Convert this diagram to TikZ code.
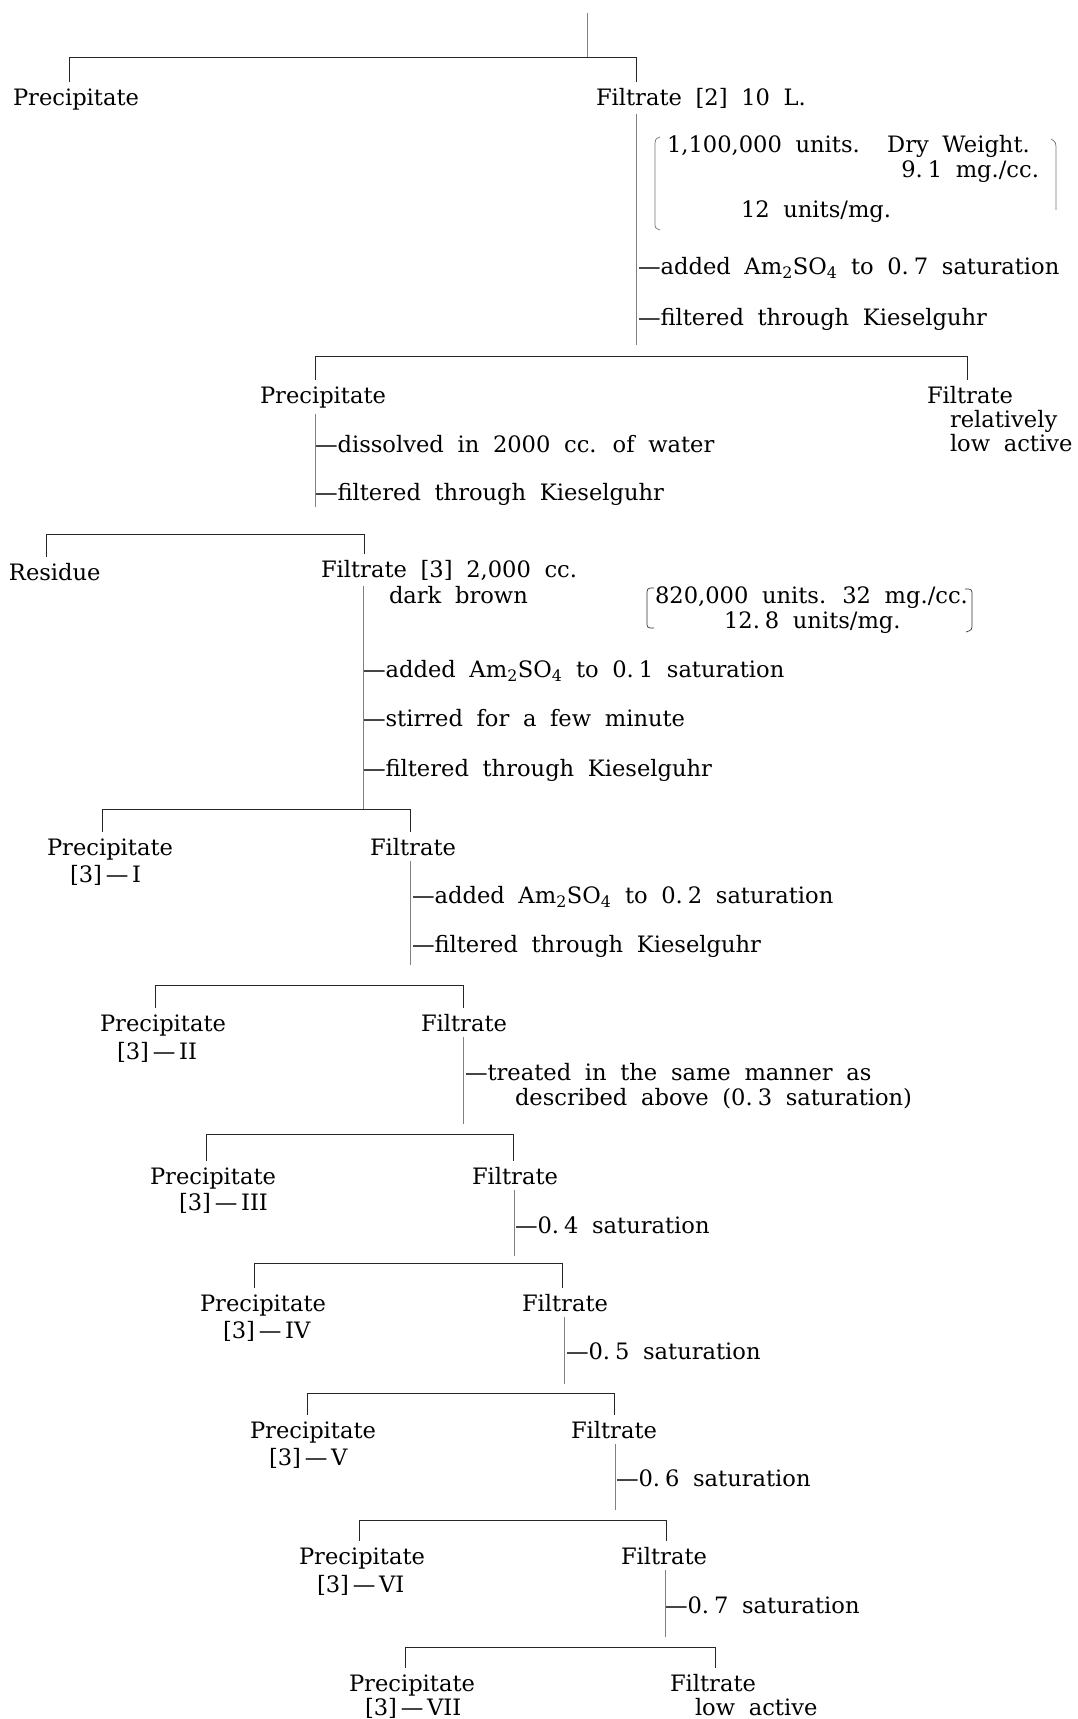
\documentclass[tikz,border=0pt]{standalone}
\usepackage{fontspec}
\setmainfont{DejaVu Serif}[WordSpace=1.9]
\newcommand\dsp{\hspace{0.22em}}
\tikzset{
  lbl/.style={inner sep=0pt, outer xsep=0pt, outer ysep=6pt, anchor=base west,
              font=\fontsize{22.6}{26}\selectfont},
  split/.style={line width=0.8pt, black!85},
  tick/.style={line width=0.8pt, black!85},
  stem/.style={line width=0.6pt, black!50},
  brk/.style={line width=0.7pt, black!55},
}
\begin{document}
\begin{tikzpicture}[x=1pt, y=-1pt]
\useasboundingbox (0,0) rectangle (1077,1719);

% ---------- level 1 ----------
\node[lbl] (p1) at (13,105) {Precipitate};
\node[lbl] (f2) at (596,105) {Filtrate [2] 10 L.};
\node[lbl] (b1a) at (667,152) {1,100,000 units.\ \ Dry Weight.};
\node[lbl, anchor=base east] (b1b) at (1039,177) {9.\dsp1 mg./cc.};
\node[lbl] (b1c) at (741,217) {12 units/mg.};
\node[lbl] (o1) at (638,274) {—added Am\textsubscript{2}SO\textsubscript{4} to 0.\dsp7 saturation};
\node[lbl] (o2) at (638,325) {—filtered through Kieselguhr};

% ---------- level 2 ----------
\node[lbl] (p2) at (260,403) {Precipitate};
\node[lbl] (f2b) at (927,403) {Filtrate};
\node[lbl] (f2c) at (950,427) {relatively};
\node[lbl] (f2d) at (950,451) {low active};
\node[lbl] (o3) at (315,452) {—dissolved in 2000 cc. of water};
\node[lbl] (o4) at (315,500) {—filtered through Kieselguhr};

% ---------- level 3 ----------
\node[lbl] (r3) at (9,580) {Residue};
\node[lbl] (f3) at (321,577) {Filtrate [3] 2,000 cc.};
\node[lbl] (f3b) at (389,603) {dark brown};
\node[lbl] (b2a) at (655,603) {820,000 units. 32 mg./cc.};
\node[lbl] (b2b) at (724,628) {12.\dsp8 units/mg.};
\node[lbl] (o5) at (363,677) {—added Am\textsubscript{2}SO\textsubscript{4} to 0.\dsp1 saturation};
\node[lbl] (o6) at (363,726) {—stirred for a few minute};
\node[lbl] (o7) at (363,776) {—filtered through Kieselguhr};

% ---------- level 4 ----------
\node[lbl] (p4) at (47,855) {Precipitate};
\node[lbl] (p4b) at (70,882) {[3]\,—\,I};
\node[lbl] (f4) at (370,855) {Filtrate};
\node[lbl] (o8) at (412,903) {—added Am\textsubscript{2}SO\textsubscript{4} to 0.\dsp2 saturation};
\node[lbl] (o9) at (412,952) {—filtered through Kieselguhr};

% ---------- level 5 ----------
\node[lbl] (p5) at (100,1031) {Precipitate};
\node[lbl] (p5b) at (117,1059) {[3]\,—\,II};
\node[lbl] (f5) at (421,1031) {Filtrate};
\node[lbl] (o10) at (465,1080) {—treated in the same manner as};
\node[lbl] (o11) at (515,1105) {described above (0.\dsp3 saturation)};

% ---------- level 6 ----------
\node[lbl] (p6) at (150,1184) {Precipitate};
\node[lbl] (p6b) at (179,1210) {[3]\,—\,III};
\node[lbl] (f6) at (472,1184) {Filtrate};
\node[lbl] (o12) at (515,1233) {—0.\dsp4 saturation};

% ---------- level 7 ----------
\node[lbl] (p7) at (200,1311) {Precipitate};
\node[lbl] (p7b) at (223,1338) {[3]\,—\,IV};
\node[lbl] (f7) at (522,1311) {Filtrate};
\node[lbl] (o13) at (566,1359) {—0.\dsp5 saturation};

% ---------- level 8 ----------
\node[lbl] (p8) at (250,1438) {Precipitate};
\node[lbl] (p8b) at (269,1465) {[3]\,—\,V};
\node[lbl] (f8) at (571,1438) {Filtrate};
\node[lbl] (o14) at (616,1486) {—0.\dsp6 saturation};

% ---------- level 9 ----------
\node[lbl] (p9) at (299,1564) {Precipitate};
\node[lbl] (p9b) at (317,1592) {[3]\,—\,VI};
\node[lbl] (f9) at (621,1564) {Filtrate};
\node[lbl] (o15) at (665,1613) {—0.\dsp7 saturation};

% ---------- level 10 ----------
\node[lbl] (p10) at (349,1691) {Precipitate};
\node[lbl] (p10b) at (365,1715) {[3]\,—\,VII};
\node[lbl] (f10) at (670,1691) {Filtrate};
\node[lbl] (f10b) at (695,1715) {low active};

% ---------- split lines ----------
\coordinate (s1L) at (69,57);   \coordinate (s1R) at (636,57);
\coordinate (s2L) at (315,356); \coordinate (s2R) at (967,356);
\coordinate (s3L) at (46,534);  \coordinate (s3R) at (364,534);
\coordinate (s4L) at (102,809); \coordinate (s4R) at (410,809);
\coordinate (s5L) at (155,985); \coordinate (s5R) at (463,985);
\coordinate (s6L) at (206,1134); \coordinate (s6R) at (513,1134);
\coordinate (s7L) at (254,1263); \coordinate (s7R) at (562,1263);
\coordinate (s8L) at (307,1393); \coordinate (s8R) at (614,1393);
\coordinate (s9L) at (359,1520); \coordinate (s9R) at (666,1520);
\coordinate (s10L) at (405,1647); \coordinate (s10R) at (715,1647);

\foreach \i in {1,...,10} \draw[split] (s\i L) -- (s\i R);

% ticks down to children
\draw[tick] (s1L) -- (s1L |- p1.north);   \draw[tick] (s1R) -- (s1R |- f2.north);
\draw[tick] (s2L) -- (s2L |- p2.north);   \draw[tick] (s2R) -- (s2R |- f2b.north);
\draw[tick] (s3L) -- (s3L |- r3.north);   \draw[tick] (s3R) -- (s3R |- f3.north);
\draw[tick] (s4L) -- (s4L |- p4.north);   \draw[tick] (s4R) -- (s4R |- f4.north);
\draw[tick] (s5L) -- (s5L |- p5.north);   \draw[tick] (s5R) -- (s5R |- f5.north);
\draw[tick] (s6L) -- (s6L |- p6.north);   \draw[tick] (s6R) -- (s6R |- f6.north);
\draw[tick] (s7L) -- (s7L |- p7.north);   \draw[tick] (s7R) -- (s7R |- f7.north);
\draw[tick] (s8L) -- (s8L |- p8.north);   \draw[tick] (s8R) -- (s8R |- f8.north);
\draw[tick] (s9L) -- (s9L |- p9.north);   \draw[tick] (s9R) -- (s9R |- f9.north);
\draw[tick] (s10L) -- (s10L |- p10.north); \draw[tick] (s10R) -- (s10R |- f10.north);

% stems from parents
\coordinate (top) at (587,13); \coordinate (j1) at (587,57);
\draw[stem] (top) -- (j1);
\coordinate (e1) at (636,345);  \draw[stem] (f2.south -| e1) -- (e1);
\coordinate (e2) at (315,507);  \draw[stem] (p2.south -| e2) -- (e2);
\coordinate (e3) at (363,809);  \draw[stem] (f3.south -| e3) -- (e3);
\coordinate (e4) at (410,965);  \draw[stem] (f4.south -| e4) -- (e4);
\coordinate (e5) at (463,1124); \draw[stem] (f5.south -| e5) -- (e5);
\coordinate (e6) at (514,1256); \draw[stem] (f6.south -| e6) -- (e6);
\coordinate (e7) at (564,1384); \draw[stem] (f7.south -| e7) -- (e7);
\coordinate (e8) at (615,1510); \draw[stem] (f8.south -| e8) -- (e8);
\coordinate (e9) at (665,1637); \draw[stem] (f9.south -| e9) -- (e9);

% brackets
\draw[brk] (660,137) .. controls (655,139) .. (655,148) -- (655,222) .. controls (655,228) .. (660,230);
\draw[brk] (1051,139) .. controls (1056,142) .. (1056,152) -- (1056,210);
\draw[line width=0.7pt, black!80] (654,588) .. controls (647,588) .. (647,596) -- (647,621) .. controls (647,628) .. (654,628);
\draw[line width=0.7pt, black!80] (965,589) .. controls (972,589) .. (972,596) -- (972,623) .. controls (972,630) .. (966,632);
\end{tikzpicture}
\end{document}
